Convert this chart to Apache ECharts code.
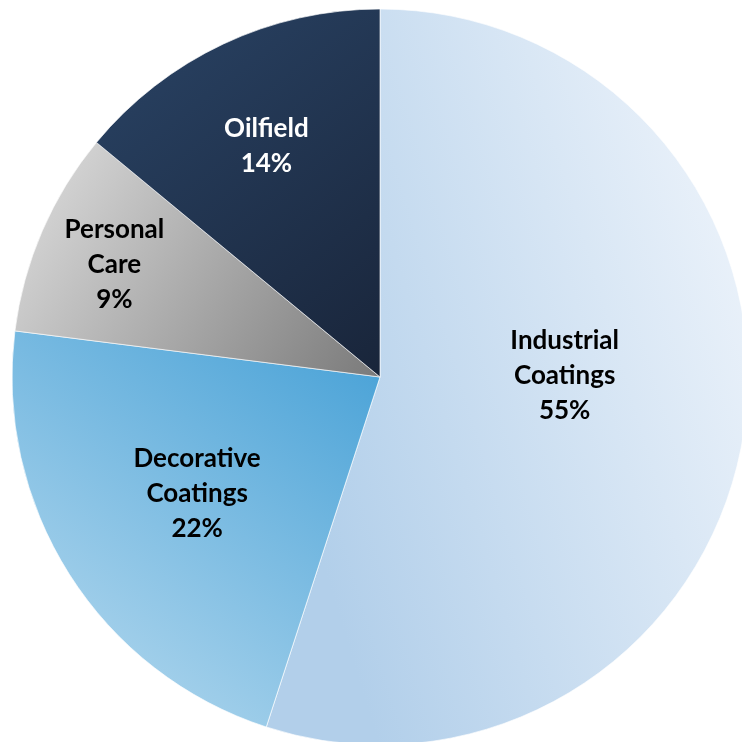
<!DOCTYPE html>
<html>
<head>
<meta charset="utf-8">
<script src="https://cdn.jsdelivr.net/npm/echarts@6/dist/echarts.min.js"></script>
<style>html,body{margin:0;padding:0;background:#fff;}#c{width:742px;height:742px;}</style>
</head>
<body>
<div id="c"></div>
<script>
const categories = ['Industrial\nCoatings', 'Decorative\nCoatings', 'Personal\nCare', 'Oilfield'];
const values = [55, 22, 9, 14];

// styling (not data)
const gradients = [
  {x:0, y:0.5, x2:1, y2:0.3, stops:['#b2cfea', '#ebf2fa']},
  {x:1, y:0, x2:0.2, y2:1, stops:['#45a0d6', '#b3d8ee']},
  {x:0, y:0, x2:1, y2:1, stops:['#e0e0e0', '#7a7a7a']},
  {x:0, y:0, x2:1, y2:1, stops:['#2a4466', '#19253a']}
];
const labelColors = ['#000', '#000', '#000', '#fff'];
const labelShift = [[0, -31], [-25, 16], [-94, -38], [-34, -62]];

const data = categories.map((name, i) => ({
  name: name,
  value: values[i],
  itemStyle: {
    color: new echarts.graphic.LinearGradient(gradients[i].x, gradients[i].y, gradients[i].x2, gradients[i].y2, [
      {offset: 0, color: gradients[i].stops[0]},
      {offset: 1, color: gradients[i].stops[1]}
    ])
  },
  label: {color: labelColors[i]}
}));

const chart = echarts.init(document.getElementById('c'), null, {renderer: 'canvas'});
chart.setOption({
  animation: false,
  series: [{
    type: 'pie',
    center: [380, 377],
    radius: [0, 368],
    startAngle: 90,
    clockwise: true,
    data: data,
    itemStyle: {borderColor: 'rgba(255,255,255,0.8)', borderWidth: 0.8},
    label: {
      show: true,
      position: 'inside',
      formatter: p => p.name + '\n' + p.value + '%',
      fontFamily: 'Lato',
      fontWeight: 'bold',
      fontSize: 26,
      lineHeight: 35,
      align: 'center'
    },
    labelLine: {show: false},
    labelLayout: function (params) {
      const s = labelShift[params.dataIndex];
      return {dx: s[0], dy: s[1]};
    }
  }]
});
</script>
</body>
</html>
